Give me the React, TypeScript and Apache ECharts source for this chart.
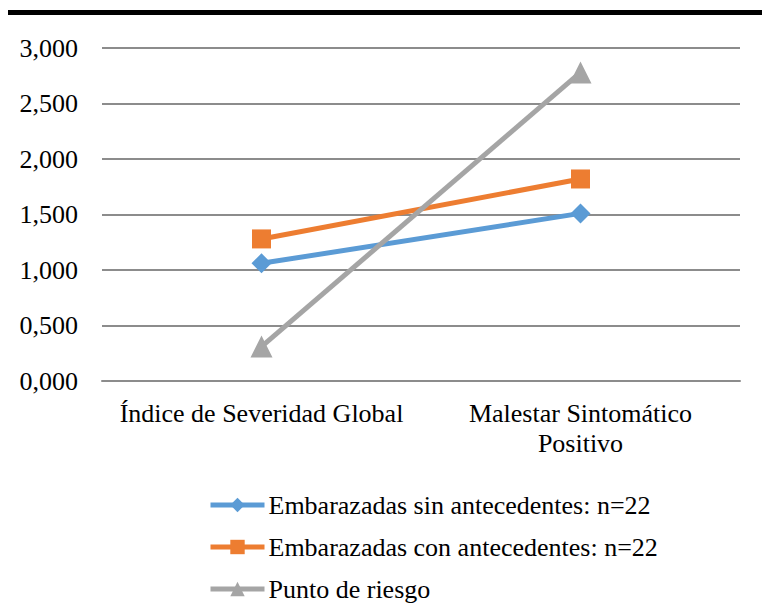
import React, { useEffect, useRef } from "react";
import * as echarts from "echarts";

const categories = ["Índice de Severidad Global", "Malestar Sintomático\nPositivo"];
const seriesNames = [
  "Embarazadas sin antecedentes: n=22",
  "Embarazadas con antecedentes: n=22",
  "Punto de riesgo",
];
const sinAntecedentes = [1.06, 1.51];
const conAntecedentes = [1.28, 1.82];
const puntoRiesgo = [0.31, 2.78];

const FONT = '"Liberation Serif", "Times New Roman", serif';

export default function App() {
  const ref = useRef<HTMLDivElement>(null);
  useEffect(() => {
    if (!ref.current) return;
    const chart = echarts.init(ref.current, undefined, { renderer: "svg" });
    const mk = (name: string, data: number[], color: string, symbol: string, size: number) => ({
      name,
      type: "line",
      data,
      symbol,
      symbolSize: size,
      lineStyle: { color, width: 5 },
      itemStyle: { color },
      z: 3,
    });
    chart.setOption({
      animation: false,
      textStyle: { fontFamily: FONT },
      graphic: [
        { type: "rect", shape: { x: 8, y: 10, width: 754, height: 5 }, style: { fill: "#000" } },
      ],
      grid: { left: 102, right: 22, top: 48, bottom: 224 },
      xAxis: {
        type: "category",
        data: categories,
        boundaryGap: true,
        axisLine: { show: true, lineStyle: { color: "#8c8c8c", width: 2 } },
        axisTick: { show: false },
        axisLabel: {
          color: "#000",
          fontSize: 26,
          fontFamily: FONT,
          margin: 17,
          lineHeight: 30,
          interval: 0,
        },
      },
      yAxis: {
        type: "value",
        min: 0,
        max: 3,
        interval: 0.5,
        axisLine: { show: false },
        axisTick: { show: false },
        splitLine: { lineStyle: { color: "#8c8c8c", width: 2 } },
        axisLabel: {
          color: "#000",
          fontSize: 26,
          fontFamily: FONT,
          margin: 24,
          formatter: (v: number) => v.toFixed(3).replace(".", ","),
        },
      },
      legend: {
        orient: "vertical",
        left: 208,
        top: 492,
        padding: 0,
        itemWidth: 54,
        itemHeight: 18,
        itemGap: 16,
        lineStyle: { width: 5 },
        textStyle: {
          color: "#000",
          fontSize: 26,
          lineHeight: 26,
          fontFamily: FONT,
          padding: [0, 0, 0, -1],
        },
        data: seriesNames,
      },
      series: [
        mk(seriesNames[0], sinAntecedentes, "#5B9BD5", "diamond", 20),
        mk(seriesNames[1], conAntecedentes, "#ED7D31", "rect", 19),
        mk(seriesNames[2], puntoRiesgo, "#A5A5A5", "triangle", 22),
      ],
    });
    return () => chart.dispose();
  }, []);
  return (
    <div
      ref={ref}
      style={{ position: "fixed", left: 0, top: 0, width: 762, height: 605, background: "#fff" }}
    />
  );
}
